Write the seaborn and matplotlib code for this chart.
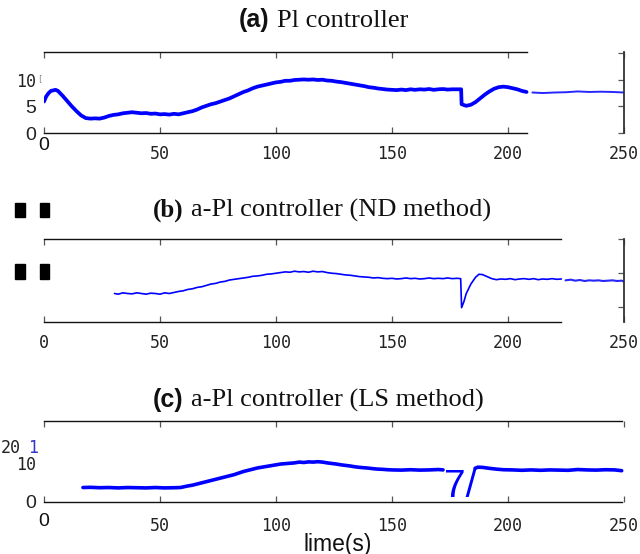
import matplotlib
matplotlib.use("Agg")
import matplotlib.pyplot as plt
import seaborn as sns
import pandas as pd
from matplotlib.patches import Rectangle

# ---------------- data ----------------
XTICKS = [0, 50, 100, 150, 200, 250]
XTICK_LABELS = ["0", "50", "100", "150", "200", "250"]

# (a) PI controller – main tile
a_t = [0, 1, 2, 3, 5, 6, 8, 10, 12, 14, 16, 18, 20, 22, 24, 26, 28, 30, 32, 34, 36, 38, 40,
       42, 44, 46, 48, 50, 52, 54, 56, 58, 60, 62, 64, 66, 68, 70, 72, 74, 76, 78, 80, 82,
       84, 86, 88, 90, 92, 94, 96, 98, 100, 102, 104, 106, 108, 110, 112, 114, 116, 118,
       120, 122, 124, 126, 128, 130, 132, 134, 136, 138, 140, 142, 144, 146, 148, 150, 152,
       154, 156, 158, 160, 162, 164, 166, 168, 170, 172, 174, 176, 178, 179.8, 180, 182,
       184, 186, 188, 190, 192, 194, 196, 198, 200, 202, 204, 206, 208]
a_y = [5.9, 6.9, 7.5, 7.9, 8.1, 7.9, 7.0, 6.0, 5.0, 4.1, 3.3, 2.8, 2.7, 2.75, 2.7, 2.9, 3.2,
       3.4, 3.5, 3.7, 3.8, 3.9, 3.8, 3.7, 3.75, 3.6, 3.65, 3.5, 3.55, 3.45, 3.6, 3.5, 3.7,
       3.9, 4.1, 4.4, 4.8, 5.1, 5.4, 5.6, 5.9, 6.2, 6.5, 6.9, 7.3, 7.7, 8.0, 8.4, 8.7, 8.9,
       9.1, 9.3, 9.5, 9.6, 9.8, 9.8, 9.95, 10.0, 10.05, 10.0, 10.05, 9.95, 10.0, 9.85, 9.8,
       9.65, 9.55, 9.4, 9.25, 9.1, 8.95, 8.8, 8.6, 8.5, 8.35, 8.25, 8.15, 8.1, 8.05, 8.15,
       8.05, 8.2, 8.1, 8.2, 8.15, 8.25, 8.1, 8.2, 8.25, 8.15, 8.2, 8.2, 8.2, 5.4, 5.1, 5.3,
       5.8, 6.5, 7.2, 7.8, 8.3, 8.6, 8.7, 8.6, 8.4, 8.2, 7.9, 7.7]
# (a) shifted right tile
a2_t = [210.5, 215, 220, 225, 230, 235, 240, 245, 250]
a2_y = [7.6, 7.5, 7.6, 7.65, 7.8, 7.7, 7.75, 7.7, 7.6]

# (b) a-PI controller (ND method)
b_t = [30.4, 32, 34, 36, 38, 40, 42, 44, 46, 48, 50, 52, 54, 56, 58, 60, 62, 64, 66, 68, 70,
       72, 74, 76, 78, 80, 82, 84, 86, 88, 90, 92, 94, 96, 98, 100, 102, 104, 106, 108, 110,
       112, 114, 116, 118, 120, 122, 124, 126, 128, 130, 132, 134, 136, 138, 140, 142, 144,
       146, 148, 150, 152, 154, 156, 158, 160, 162, 164, 166, 168, 170, 172, 174, 176, 178,
       179.6, 180, 181, 182, 184, 186, 187.5, 189, 191, 193, 195, 197, 199, 201, 203, 205,
       207, 209, 211, 213, 215, 217, 219, 221, 223]
b_y = [7.0, 6.9, 7.1, 7.0, 6.95, 7.1, 7.0, 6.9, 7.05, 7.0, 6.9, 7.1, 7.0, 7.15, 7.3, 7.4,
       7.6, 7.7, 7.9, 8.0, 8.2, 8.4, 8.5, 8.7, 8.8, 9.0, 9.1, 9.2, 9.3, 9.4, 9.55, 9.6, 9.7,
       9.85, 9.9, 10.0, 10.1, 10.2, 10.15, 10.3, 10.2, 10.25, 10.15, 10.3, 10.2, 10.25, 10.1,
       10.0, 9.95, 9.85, 9.75, 9.7, 9.6, 9.5, 9.45, 9.4, 9.3, 9.35, 9.25, 9.2, 9.25, 9.15,
       9.2, 9.3, 9.2, 9.25, 9.15, 9.2, 9.3, 9.2, 9.25, 9.2, 9.3, 9.2, 9.25, 9.2, 4.9, 5.8,
       7.0, 8.4, 9.4, 9.85, 9.8, 9.5, 9.2, 9.05, 9.15, 9.1, 9.2, 9.05, 9.15, 9.2, 9.1, 9.2,
       9.05, 9.15, 9.1, 9.2, 9.1, 9.15]
b2_t = [224.8, 227, 229, 231, 233, 235, 237, 239, 241, 243, 245, 247, 249, 250]
b2_y = [8.95, 9.05, 8.9, 9.0, 8.85, 8.95, 8.9, 8.95, 8.85, 8.9, 8.95, 8.85, 8.9, 8.75]

# (c) a-PI controller (LS method)
c_t = [16.8, 20, 24, 28, 32, 36, 40, 44, 48, 52, 56, 58.8, 60, 62, 64, 66, 68, 70, 72, 74,
       76, 78, 80, 82, 84, 86, 88, 90, 92, 94, 96, 98, 100, 102, 104, 106, 108, 110, 112,
       114, 116, 118, 120, 122, 124, 126, 128, 130, 132, 134, 136, 138, 140, 142, 144, 146,
       148, 150, 154, 158, 162, 166, 170, 172]
c_y = [3.7, 3.75, 3.65, 3.7, 3.6, 3.7, 3.65, 3.6, 3.7, 3.6, 3.65, 3.7, 3.85, 4.1, 4.3, 4.6,
       4.9, 5.2, 5.5, 5.8, 6.1, 6.4, 6.7, 7.0, 7.4, 7.8, 8.1, 8.4, 8.7, 8.9, 9.1, 9.3, 9.5,
       9.7, 9.8, 9.9, 10.0, 10.2, 10.1, 10.25, 10.2, 10.3, 10.2, 10.0, 9.85, 9.7, 9.5, 9.35,
       9.2, 9.0, 8.85, 8.75, 8.65, 8.5, 8.4, 8.35, 8.25, 8.2, 8.15, 8.25, 8.15, 8.2, 8.3, 8.2]
c2_t = [185.8, 187, 189, 192, 195, 198, 202, 206, 210, 214, 218, 222, 226, 230, 234, 238,
        242, 246, 249]
c2_y = [8.6, 8.9, 8.85, 8.6, 8.4, 8.25, 8.2, 8.1, 8.2, 8.1, 8.2, 8.15, 8.1, 8.3, 8.2, 8.15,
        8.25, 8.2, 8.0]

# ---------------- styling ----------------
sns.set_style("white")
plt.rcParams["font.family"] = ["DejaVu Sans Mono"]
BLUE = "#0000ff"
MONO = "DejaVu Sans Mono"
SANS = "Liberation Sans"
SERIF = "Liberation Serif"
W, H = 640, 554

fig = plt.figure(figsize=(6.4, 5.54), dpi=100)


def px_axes(left, top, right, bottom):
    return fig.add_axes([left / W, 1 - bottom / H, (right - left) / W, (bottom - top) / H])


ax_a = px_axes(44, 52, 624, 133)
ax_b = px_axes(44, 239, 624, 322)
ax_c = px_axes(44, 421, 624, 502)


def draw(ax, t, y, lw, alpha=1.0):
    df = pd.DataFrame({"t": t, "y": y})
    sns.lineplot(data=df, x="t", y="y", ax=ax, color=BLUE, lw=lw, alpha=alpha,
                 estimator=None, sort=False)


draw(ax_a, a_t, a_y, 2.7)
draw(ax_a, a2_t, a2_y, 1.4, 0.85)
draw(ax_b, b_t, b_y, 1.2)
draw(ax_b, b2_t, b2_y, 1.5, 0.85)
draw(ax_c, c_t, c_y, 2.6)
draw(ax_c, c2_t, c2_y, 2.6)


def style(ax, xend, right, ylim, yticks, ylabels, xpad, zero_sans):
    ax.set_xlim(0, 250)
    ax.set_ylim(*ylim)
    ax.set_xlabel("")
    ax.set_ylabel("")
    ax.spines["left"].set_visible(False)
    for s in ("top", "bottom"):
        ax.spines[s].set_bounds(0, xend)
        ax.spines[s].set_color("#111111")
        ax.spines[s].set_linewidth(1.0)
    ax.spines["right"].set_visible(right)
    ax.spines["right"].set_color("#333333")
    ax.spines["right"].set_linewidth(1.3)
    ax.set_xticks(XTICKS)
    xl = list(XTICK_LABELS)
    if zero_sans:
        xl[0] = ""
    ax.set_xticklabels(xl)
    ax.tick_params(axis="x", direction="in", top=True, bottom=True, length=4, width=0.9,
                   color="#555555", labelsize=12, labelcolor="#222222", pad=xpad)
    ax.set_yticks(yticks)
    ax.set_yticklabels(ylabels)
    ax.tick_params(axis="y", direction="in", left=False, right=right, length=4, width=0.9,
                   color="#555555", labelleft=True, labelright=False, labelsize=12,
                   labelcolor="#222222", pad=5.5)
    ax.patch.set_alpha(0)


style(ax_a, 208, True, (0, 15.2), [0, 5, 10, 15], ["0", "5", "10", ""], 8.5, True)
style(ax_b, 223, True, (2.78, 15.07), [5, 10, 15], ["", "", ""], 8.5, False)
style(ax_c, 249, False, (0, 20.7), [0, 10], ["0", "10"], 11, True)

for lab in ax_a.get_yticklabels():
    if lab.get_text() in ("0", "5"):
        lab.set_fontfamily(SANS)
        lab.set_fontsize(14)
for lab in ax_c.get_yticklabels():
    if lab.get_text() == "0":
        lab.set_fontfamily(SANS)
        lab.set_fontsize(14)

# large sans "0" at the x origin of (a) and (c)
for ax, off in ((ax_a, -3), (ax_c, -8)):
    ax.annotate("0", xy=(0, 0), xycoords=("data", "axes fraction"), xytext=(0, off),
                textcoords="offset points", ha="center", va="top", fontsize=14,
                family=SANS, color="#111111")

# glitchy extras in (c)
ax_c.text(179.5, 1.3, "7/", color=BLUE, fontsize=28, family=SANS, ha="center",
          va="baseline")
fig.text(21 / W, 1 - 448 / H, "20", ha="right", va="center", fontsize=12, family=MONO,
         color="#222222")
fig.text(33 / W, 1 - 448 / H, "1", ha="center", va="center", fontsize=12, family=MONO,
         color="#3333cc")
fig.text(40 / W, 1 - 79 / H, "[", ha="center", va="center", fontsize=6, family=MONO,
         color="#888888")

# titles
def title(x_split, base_y, lab, lab_family, rest):
    fig.text((x_split - 4) / W, 1 - base_y / H, lab, ha="right", va="baseline",
             fontsize=18, fontweight="bold", family=lab_family, color="#111111")
    fig.text((x_split + 4) / W, 1 - base_y / H, rest, ha="left", va="baseline",
             fontsize=19, family=SERIF, color="#111111")


title(273, 27, "(a)", SANS, "Pl controller")
title(187, 217, "(b)", SERIF, "a-Pl controller (ND method)")
title(187, 407, "(c)", SANS, "a-Pl controller (LS method)")

fig.text(338 / W, 1 - 544 / H, "lime(s)", ha="center", va="center", fontsize=16.5,
         family=SANS, color="#111111")

# black blocks at the left of panel (b)
for (x0, y0, x1, y1) in ((15, 203, 25, 217), (40, 203, 49, 217),
                         (15, 264, 25, 279), (40, 264, 49, 279)):
    fig.patches.append(Rectangle((x0 / W, 1 - y1 / H), (x1 - x0) / W, (y1 - y0) / H,
                                 transform=fig.transFigure, color="black"))

fig.savefig("out.png", dpi=100)
